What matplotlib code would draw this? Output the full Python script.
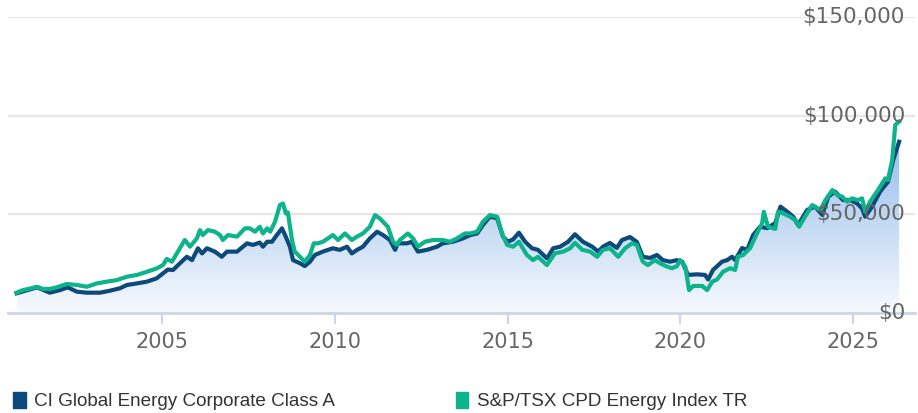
import numpy as np
import matplotlib.pyplot as plt
from matplotlib.colors import LinearSegmentedColormap
from matplotlib.patches import Patch
from matplotlib.transforms import blended_transform_factory

# growth of $10,000 (values in thousands of dollars)
fund_years = [2000.81, 2001.12, 2001.40, 2001.77, 2002.06, 2002.29, 2002.55, 2002.84,
              2003.22, 2003.51, 2003.79, 2004.00, 2004.29, 2004.58, 2004.86, 2005.04,
              2005.18, 2005.33, 2005.53, 2005.73, 2005.88, 2006.05, 2006.17, 2006.31,
              2006.54, 2006.74, 2006.89, 2007.18, 2007.47, 2007.64, 2007.84, 2007.93,
              2008.05, 2008.19, 2008.33, 2008.48, 2008.57, 2008.71, 2008.80, 2009.00,
              2009.14, 2009.29, 2009.43, 2009.66, 2009.95, 2010.15, 2010.36, 2010.50,
              2010.65, 2010.82, 2011.02, 2011.23, 2011.40, 2011.60, 2011.75, 2011.83,
              2012.09, 2012.24, 2012.41, 2012.67, 2012.96, 2013.13, 2013.42, 2013.71,
              2013.92, 2014.12, 2014.29, 2014.49, 2014.70, 2014.87, 2015.01, 2015.16,
              2015.33, 2015.51, 2015.71, 2015.88, 2016.14, 2016.32, 2016.52, 2016.75,
              2016.95, 2017.18, 2017.45, 2017.62, 2017.76, 2017.96, 2018.16, 2018.31,
              2018.54, 2018.74, 2018.91, 2019.12, 2019.32, 2019.49, 2019.70, 2019.90,
              2020.05, 2020.22, 2020.48, 2020.71, 2020.80, 2020.94, 2021.20, 2021.35,
              2021.49, 2021.58, 2021.78, 2021.93, 2022.10, 2022.30, 2022.51, 2022.74,
              2022.89, 2023.09, 2023.26, 2023.40, 2023.66, 2023.89, 2024.10, 2024.27,
              2024.47, 2024.70, 2024.91, 2025.11, 2025.25, 2025.34, 2025.54, 2025.77,
              2026.00, 2026.15, 2026.32]
fund_values = [10.0, 11.6, 13.0, 10.3, 11.6, 13.0, 10.8, 10.3,
               10.3, 11.3, 12.5, 14.2, 15.0, 15.9, 17.6, 20.1,
               22.0, 21.8, 25.2, 28.5, 26.8, 32.8, 30.2, 32.8,
               31.1, 28.5, 31.1, 31.1, 35.3, 34.5, 35.7, 33.6,
               36.1, 36.1, 39.5, 42.9, 39.5, 33.6, 26.8, 25.2,
               23.8, 26.0, 29.4, 31.1, 32.8, 32.0, 33.6, 30.2,
               32.0, 33.6, 37.8, 41.2, 39.5, 37.0, 32.0, 35.3,
               35.3, 36.1, 31.1, 32.0, 33.6, 35.3, 36.1, 37.8,
               39.5, 40.3, 44.6, 48.8, 48.0, 38.7, 36.1, 37.3,
               40.7, 36.1, 32.8, 32.0, 27.7, 32.8, 33.6, 36.1,
               39.9, 36.1, 33.6, 31.1, 33.6, 35.5, 33.0, 37.0,
               38.5, 36.0, 28.5, 27.9, 29.4, 26.8, 26.0, 26.8,
               26.0, 19.3, 19.6, 19.3, 17.0, 21.8, 26.0, 26.8,
               28.5, 26.8, 32.9, 32.0, 39.5, 43.7, 43.0, 45.6,
               53.9, 51.3, 48.8, 44.6, 52.2, 53.9, 49.7, 58.9,
               61.5, 57.2, 57.2, 55.5, 53.0, 48.8, 53.9, 61.5,
               66.5, 77.5, 86.8]

index_years = [2000.81, 2000.99, 2001.15, 2001.40, 2001.57, 2001.77, 2001.97, 2002.26,
               2002.55, 2002.84, 2003.13, 2003.42, 2003.71, 2004.00, 2004.29, 2004.58,
               2004.86, 2005.04, 2005.15, 2005.30, 2005.47, 2005.67, 2005.82, 2006.02,
               2006.11, 2006.19, 2006.34, 2006.54, 2006.69, 2006.77, 2006.92, 2007.18,
               2007.41, 2007.55, 2007.70, 2007.84, 2007.93, 2008.05, 2008.14, 2008.28,
               2008.42, 2008.51, 2008.59, 2008.65, 2008.77, 2008.85, 2009.00, 2009.14,
               2009.29, 2009.40, 2009.52, 2009.66, 2009.81, 2009.95, 2010.10, 2010.30,
               2010.50, 2010.65, 2010.82, 2011.02, 2011.17, 2011.31, 2011.54, 2011.69,
               2011.80, 2011.89, 2012.12, 2012.27, 2012.41, 2012.61, 2012.85, 2013.13,
               2013.34, 2013.54, 2013.77, 2013.92, 2014.12, 2014.29, 2014.49, 2014.70,
               2014.84, 2014.99, 2015.16, 2015.33, 2015.56, 2015.74, 2015.88, 2016.14,
               2016.37, 2016.61, 2016.81, 2016.95, 2017.16, 2017.39, 2017.59, 2017.76,
               2017.96, 2018.20, 2018.40, 2018.60, 2018.74, 2018.91, 2019.06, 2019.26,
               2019.41, 2019.61, 2019.76, 2019.90, 2019.99, 2020.14, 2020.25, 2020.37,
               2020.63, 2020.77, 2020.92, 2021.06, 2021.23, 2021.43, 2021.58, 2021.66,
               2021.81, 2022.01, 2022.21, 2022.36, 2022.41, 2022.53, 2022.74, 2022.82,
               2022.97, 2023.17, 2023.32, 2023.43, 2023.66, 2023.81, 2024.04, 2024.19,
               2024.39, 2024.53, 2024.68, 2024.82, 2024.96, 2025.13, 2025.25, 2025.34,
               2025.48, 2025.71, 2025.92, 2026.00, 2026.12, 2026.21, 2026.32]
index_values = [10.3, 11.6, 12.2, 13.3, 12.2, 12.2, 13.0, 14.7,
                14.2, 13.3, 15.0, 15.9, 16.7, 18.4, 19.3, 20.9,
                22.6, 24.3, 27.4, 26.0, 31.1, 37.0, 33.6, 37.8,
                42.0, 39.5, 42.0, 41.2, 39.5, 37.0, 39.5, 38.7,
                42.9, 42.9, 41.2, 43.7, 40.3, 42.9, 41.2, 46.3,
                54.7, 55.5, 50.5, 51.0, 37.0, 31.1, 28.5, 26.0,
                29.4, 35.3, 35.3, 36.1, 37.8, 39.5, 37.0, 40.3,
                37.0, 38.7, 40.3, 43.7, 49.6, 47.9, 43.7, 36.1,
                34.5, 37.0, 40.3, 37.8, 33.6, 36.1, 37.0, 37.0,
                36.1, 37.8, 40.3, 40.3, 41.2, 46.3, 49.6, 48.8,
                40.3, 34.5, 33.6, 36.1, 29.4, 26.8, 28.5, 24.3,
                30.2, 31.1, 32.8, 35.6, 32.0, 31.1, 28.5, 32.0,
                32.8, 28.5, 32.8, 35.3, 34.5, 26.0, 24.3, 26.8,
                25.2, 23.5, 22.7, 23.8, 26.8, 23.5, 11.6, 13.7,
                13.7, 11.6, 15.9, 17.0, 20.9, 22.7, 21.8, 28.5,
                29.4, 32.8, 40.3, 45.4, 51.3, 43.7, 42.6, 51.3,
                50.5, 48.8, 47.1, 43.7, 50.5, 54.7, 52.2, 57.2,
                62.3, 59.8, 58.9, 56.4, 58.1, 57.2, 58.1, 51.3,
                56.4, 62.3, 68.2, 67.4, 77.5, 95.3, 97.0]

series_names = ['CI Global Energy Corporate Class A', 'S&P/TSX CPD Energy Index TR']
series_colors = ['#0b4a7b', '#0db38b']
y_ticks = [0, 50000, 100000, 150000]
y_labels = ['$0', '$50,000', '$100,000', '$150,000']
x_ticks = [2005, 2010, 2015, 2020, 2025]

fx = np.array(fund_years)
fy = np.array(fund_values) * 1000
ix = np.array(index_years)
iy = np.array(index_values) * 1000

fig = plt.figure(figsize=(9.18, 4.13), dpi=100)
ax = fig.add_axes([8 / 918, 100 / 413, 907 / 918, 296 / 413])

# gradient area under the fund line
poly = ax.fill_between(fx, fy, 0, facecolor='none', edgecolor='none')
cmap = LinearSegmentedColormap.from_list('area', ['#f8fafe', '#c6dbf4', '#98bfee'])
img = ax.imshow(np.linspace(0, 1, 256).reshape(-1, 1), origin='lower', aspect='auto',
                cmap=cmap, extent=[fx[0], fx[-1], 0, fy.max()], zorder=1)
img.set_clip_path(poly.get_paths()[0], transform=ax.transData)

ax.plot(fx, fy, color=series_colors[0], lw=3.0, zorder=3, solid_joinstyle='round')
ax.plot(ix, iy, color=series_colors[1], lw=3.0, zorder=4, solid_joinstyle='round')

ax.set_xlim(2000.56, 2026.78)
ax.set_ylim(0, 150000)
ax.set_yticks(y_ticks)
ax.yaxis.grid(True, color='#e6e6e6', lw=1.6)
ax.set_axisbelow(True)
ax.tick_params(axis='y', length=0, labelleft=False)
ax.set_xticks(x_ticks)
ax.tick_params(axis='x', length=8, width=1.5, color='#ccd6eb', labelsize=15,
               labelcolor='#666666', pad=6)
for s in ['top', 'left', 'right']:
    ax.spines[s].set_visible(False)
ax.spines['bottom'].set_color('#ccd6eb')
ax.spines['bottom'].set_linewidth(2)

tr = blended_transform_factory(ax.transAxes, ax.transData)
for v, lab in zip(y_ticks, y_labels):
    ax.text(0.989, v, lab, transform=tr, ha='right', va='center', fontsize=15.5,
            color='#666666', zorder=5)

handles = [Patch(facecolor=c, edgecolor=c) for c in series_colors]
fig.legend(handles, series_names, loc='center left', bbox_to_anchor=(0.0, 12 / 413),
           ncol=2, frameon=False, handlelength=0.65, handleheight=1.0, handletextpad=0.45,
           columnspacing=6.4, prop={'family': 'Liberation Sans', 'size': 13.6},
           labelcolor='#333333', borderaxespad=0.3)

fig.savefig('out.png', dpi=100)
